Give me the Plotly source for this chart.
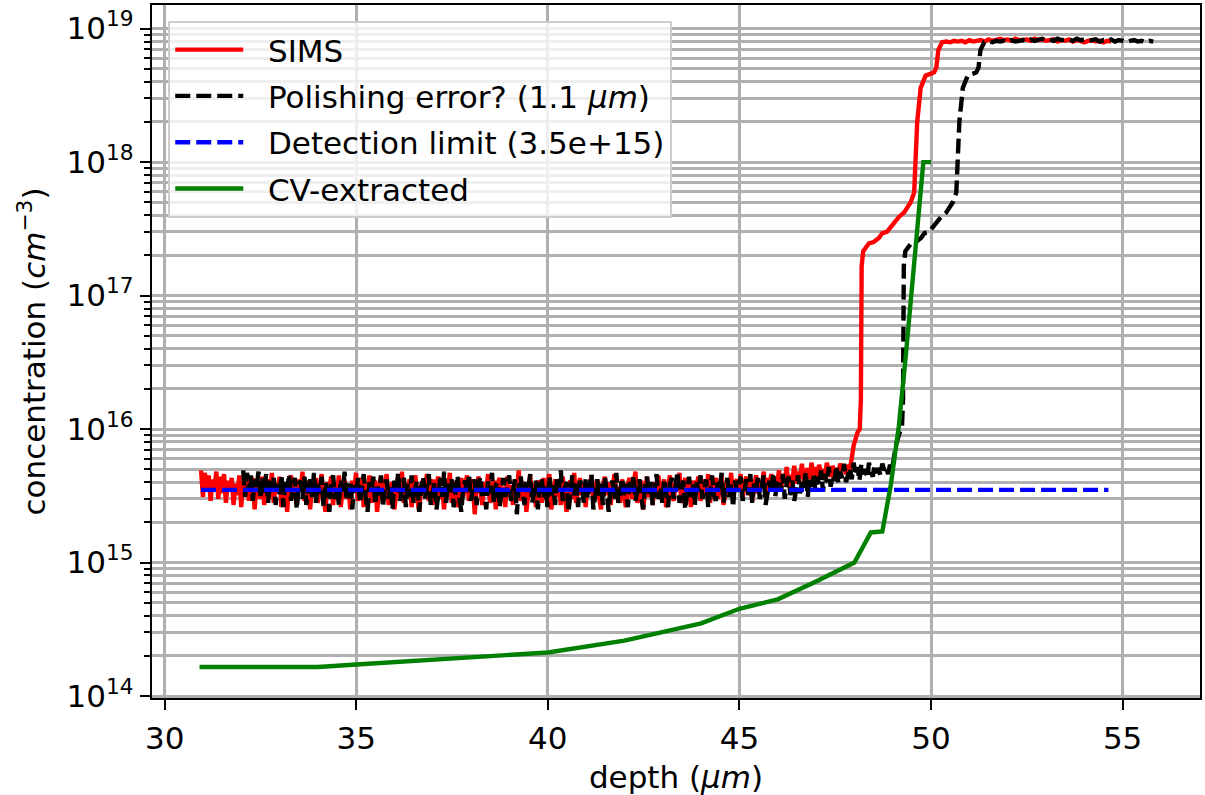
import numpy as np
import plotly.graph_objects as go

UNIT = 1e15  # SIMS values below are given in units of 1e15 cm^-3

# SIMS: noisy background region (30.95 .. 47.88 um)
sims_noise = [
    4.9, 3.1, 4.7, 3.4, 4.5, 2.9, 4.2, 3.6, 4.8, 3.0, 4.4, 3.3, 4.6, 2.8, 4.1, 3.5, 4.3, 2.7, 3.9, 3.2,
    4.5, 2.6, 4.0, 3.4, 4.6, 2.9, 3.7, 4.3, 2.5, 3.8, 4.1, 3.0, 4.4, 2.7, 3.6, 4.2, 3.1, 4.7, 2.8, 3.9,
    3.3, 4.4, 2.6, 4.0, 3.5, 2.4, 3.9, 4.5, 3.0, 3.7, 2.7, 4.2, 3.4, 4.8, 2.9, 3.6, 4.1, 2.5, 3.8, 3.2,
    4.3, 2.8, 3.7, 4.6, 3.1, 2.4, 4.0, 3.5, 4.4, 2.7, 3.9, 3.2, 4.5, 2.6, 3.6, 4.2, 3.0, 3.8, 2.5, 4.1,
    3.4, 4.7, 2.9, 3.6, 4.3, 2.6, 3.9, 3.1, 4.5, 2.8, 3.7, 4.1, 2.4, 3.5, 4.4, 3.0, 3.8, 4.6, 2.7, 3.3,
    4.0, 2.5, 3.6, 4.3, 3.1, 4.8, 2.8, 3.9, 3.4, 4.2, 2.6, 3.7, 4.5, 3.0, 2.4, 3.8, 4.1, 3.2, 4.6, 2.9,
    3.5, 4.2, 2.7, 3.9, 4.4, 3.0, 3.6, 2.5, 4.1, 3.3, 4.7, 2.8, 3.8, 4.0, 2.6, 3.4, 4.3, 3.1, 3.7, 4.5,
    2.9, 3.6, 4.2, 2.3, 3.8, 4.4, 3.2, 2.7, 4.0, 3.5, 4.6, 2.8, 3.3, 4.1, 2.5, 3.9, 4.3, 3.0, 3.7, 2.6,
    4.4, 3.1, 3.8, 2.7, 4.2, 3.5, 4.9, 2.9, 3.6, 4.0, 2.4, 3.4, 4.5, 3.2, 3.9, 2.6, 4.1, 3.7, 2.8, 4.3,
    3.0, 3.8, 4.6, 2.5, 3.5, 4.2, 3.1, 3.9, 2.7, 4.4, 3.3, 2.4, 3.7, 4.1, 3.0, 4.7, 2.8, 3.6, 4.3, 3.2,
    3.9, 2.6, 4.0, 3.4, 4.5, 2.9, 3.6, 4.2, 3.1, 2.5, 3.8, 4.4, 3.2, 4.0, 2.7, 3.5, 4.6, 3.0, 3.7, 2.8,
    4.2, 3.3, 2.6, 3.9, 4.3, 3.0, 3.6, 4.8, 2.8, 3.5, 4.1, 2.5, 3.7, 4.4, 3.1, 3.9, 2.7, 4.0, 3.4, 4.5,
    3.0, 3.7, 4.2, 2.6, 3.8, 4.5, 3.2, 2.9, 4.0, 3.5, 4.7, 2.8, 3.6, 4.3, 3.1, 3.9, 2.6, 4.1, 3.4, 3.8,
    4.4, 2.9, 3.7, 4.2, 3.2, 4.6, 2.8, 3.9, 3.5, 4.3, 3.0, 3.8, 4.5, 2.7, 3.6, 4.1, 3.3, 4.7, 3.1, 3.9,
    4.2, 3.4, 4.6, 3.0, 3.9, 4.4, 3.2, 4.1, 2.9, 3.8, 4.5, 3.3, 4.0, 3.6, 4.8, 3.1, 4.3, 3.7, 4.6, 3.5,
    4.4, 3.8, 4.9, 3.4, 4.6, 4.0, 5.2, 3.7, 4.5, 4.1, 5.3, 3.9, 4.8, 4.3, 5.5, 4.0, 4.7, 5.1, 4.2, 5.6,
    4.5, 5.2, 4.1, 5.4, 4.6, 5.0, 4.3, 5.6, 4.8, 4.4, 5.3, 4.7, 5.1, 4.5, 5.5, 4.9, 5.2, 4.6, 5.4, 5.0,
]
sims_noise_start, sims_noise_end = 30.95, 47.88

# SIMS: rising edge
sims_step_depth = [47.93, 47.98, 48.08, 48.14, 48.17, 48.19, 48.23, 48.30, 48.38,
                   48.50, 48.64, 48.73, 48.85, 49.00, 49.17, 49.30, 49.47, 49.56,
                   49.60, 49.64, 49.73, 49.86, 50.00, 50.08, 50.14, 50.19, 50.29]
sims_step_conc = [6.0, 7.5, 9.4, 10.0, 16.7, 166, 215, 233, 246,
                  252, 270, 294, 300, 340, 390, 420, 500, 590,
                  1000, 2000, 3600, 4450, 4600, 4700, 5100, 6900, 7900]

# SIMS: high-doped plateau (50.4 .. 54.7 um)
sims_plateau = [
    8000, 7900, 8100, 8000, 8100, 7900, 8200, 8000, 8100, 8200,
    8000, 8300, 8100, 8200, 8400, 8200, 8300, 8100, 8400, 8200,
    8300, 8300, 8100, 8400, 8200, 8300, 8100, 8200, 8300, 8000,
    8200, 8100, 8300, 8000, 8200, 8100, 7900, 8100, 8200, 8000,
    8100, 7900, 8100, 8000,
]
sims_plateau_start, sims_plateau_end = 50.4, 54.7

polish_shift = 1.1  # um

det_depth = [30.95, 54.63]
det_conc = [3.5e15, 3.5e15]

cv_depth = [30.91, 34.0, 35.0, 36.0, 38.0, 40.0, 42.0, 44.0, 45.0, 46.0,
            47.0, 48.0, 48.43, 48.73, 48.95, 49.16, 49.34, 49.6, 49.8, 50.0]
cv_conc = [1.65e14, 1.65e14, 1.72e14, 1.8e14, 1.95e14, 2.12e14, 2.6e14, 3.5e14,
           4.5e14, 5.3e14, 7.2e14, 1.0e15, 1.68e15, 1.71e15, 3.8e15, 1.05e16,
           3.5e16, 2.6e17, 1.0e18, 1.0e18]

x_ticks = [30, 35, 40, 45, 50, 55]
y_ticks = [1e14, 1e15, 1e16, 1e17, 1e18, 1e19]
y_ticktext = ["10<sup>14</sup>", "10<sup>15</sup>", "10<sup>16</sup>",
              "10<sup>17</sup>", "10<sup>18</sup>", "10<sup>19</sup>"]

legend_names = ["SIMS", "Polishing error? (1.1 <i>μm</i>)",
                "Detection limit (3.5e+15)", "CV-extracted"]

# assemble SIMS
sims_depth = np.concatenate([
    np.linspace(sims_noise_start, sims_noise_end, len(sims_noise)),
    np.array(sims_step_depth),
    np.linspace(sims_plateau_start, sims_plateau_end, len(sims_plateau)),
])
sims_conc = np.concatenate([np.array(sims_noise), np.array(sims_step_conc),
                            np.array(sims_plateau)]) * UNIT

FONT = "DejaVu Sans"
FS = 31
LW = 4.4
DASH = "15px,6px"
GRID = "#b0b0b0"
PAD = "\u00a0\u00a0"  # gap between legend handle and label

fig = go.Figure()
fig.add_trace(go.Scatter(x=sims_depth, y=sims_conc, mode="lines", name=PAD + legend_names[0],
                         legendgroup="a", line=dict(color="#ff0000", width=LW)))
fig.add_trace(go.Scatter(x=sims_depth + polish_shift, y=sims_conc, mode="lines",
                         name=PAD + legend_names[1], legendgroup="b",
                         line=dict(color="#000000", width=LW, dash=DASH)))
fig.add_trace(go.Scatter(x=det_depth, y=det_conc, mode="lines",
                         name=PAD + legend_names[2], legendgroup="c",
                         line=dict(color="#0000ff", width=LW, dash=DASH)))
fig.add_trace(go.Scatter(x=cv_depth, y=cv_conc, mode="lines", name=PAD + legend_names[3],
                         legendgroup="d", line=dict(color="#008000", width=LW)))

minor_vals = [float(m) * 10.0 ** e for e in range(13, 20) for m in range(2, 10)]

fig.update_layout(
    width=1205, height=795,
    margin=dict(l=152, r=3, t=4, b=96),
    paper_bgcolor="white", plot_bgcolor="white",
    font=dict(family=FONT, size=FS, color="black"),
    showlegend=True,
    legend=dict(
        x=0.0155, y=0.977, xanchor="left", yanchor="top",
        bgcolor="rgba(255,255,255,0.8)", bordercolor="#cccccc", borderwidth=2,
        font=dict(family=FONT, size=FS, color="black"),
        tracegroupgap=3, itemwidth=68,
    ),
    xaxis=dict(
        range=[29.67, 57.02], tickvals=x_ticks, ticktext=[str(v) for v in x_ticks],
        showgrid=True, gridcolor=GRID, gridwidth=2.5,
        showline=True, linecolor="black", linewidth=2.4, mirror=True,
        ticks="outside", ticklen=10, tickwidth=2.4, tickcolor="black",
        zeroline=False, ticklabelstandoff=2,
        title=dict(text="depth (<i>μm</i>)", font=dict(family=FONT, size=FS), standoff=14),
    ),
    yaxis=dict(
        type="log", range=[13.985, 19.177],
        tickvals=y_ticks, ticktext=y_ticktext,
        showgrid=True, gridcolor=GRID, gridwidth=2.5,
        showline=True, linecolor="black", linewidth=2.4, mirror=True,
        ticks="outside", ticklen=10, tickwidth=2.4, tickcolor="black",
        zeroline=False,
        minor=dict(tickvals=minor_vals, ticks="outside", ticklen=6, tickwidth=1.8,
                   tickcolor="black", showgrid=True, gridcolor=GRID, gridwidth=2.5),
        title=dict(text="concentration (<i>cm</i><sup>−3</sup>)",
                   font=dict(family=FONT, size=FS), standoff=12),
    ),
)

fig.write_html("out.html")
